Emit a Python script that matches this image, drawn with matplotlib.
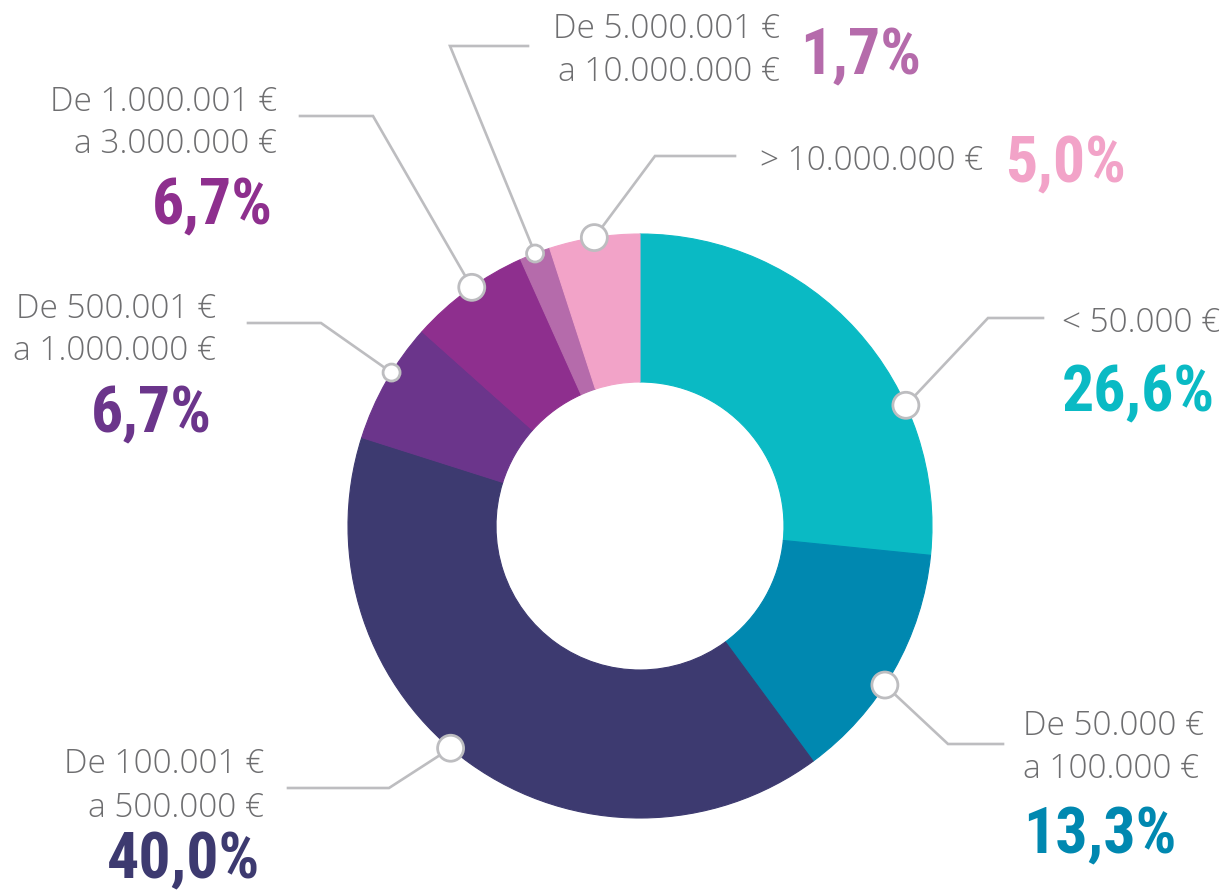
import matplotlib
matplotlib.use("Agg")
import matplotlib.pyplot as plt
from matplotlib import font_manager as fm
from matplotlib.patches import Circle
import numpy as np

# ---------------- data ----------------
categories = [
    ["< 50.000 €"],
    ["De 50.000 €", "a 100.000 €"],
    ["De 100.001 €", "a 500.000 €"],
    ["De 500.001 €", "a 1.000.000 €"],
    ["De 1.000.001 €", "a 3.000.000 €"],
    ["De 5.000.001 €", "a 10.000.000 €"],
    ["> 10.000.000 €"],
]
values = [26.6, 13.3, 40.0, 6.7, 6.7, 1.7, 5.0]
colors = ["#0ABAC4", "#0088B0", "#3D3A70", "#6B358B", "#8E2F8E", "#B56BAB", "#F2A3C8"]

# ---------------- layout (pixel coords, y from top) ----------------
W, H = 1231, 895
CX, CY = 640, 527
R_OUT, RING = 292, 148
anchor_shift = [-17.7, -3.3, -4.8, -2.0, -1.0, 0.0, 0.0]   # deg offset from wedge mid
marker_r = [13, 13, 13, 8.5, 13, 8.5, 13]
elbows = [(988, 319), (948, 745), (389, 789), (321, 324), (373, 117), (450, 47), (655, 157)]
line_ends = [(1043, 319), (1003, 745), (288, 789), (248, 324), (300, 117), (528, 47), (735, 157)]
# label: (x, [baselines], ha)
label_pos = [
    (1062, [332], "left"),
    (1023, [735, 778], "left"),
    (264, [773, 817], "right"),
    (216, [318, 360], "right"),
    (277, [111, 153], "right"),
    (780, [38, 81], "right"),
    (760, [170], "left"),
]
pct_pos = [
    (1062, 411, "left"),
    (1023, 853, "left"),
    (260, 878, "right"),
    (212, 432, "right"),
    (273, 224, "right"),
    (800, 74, "left"),
    (1005, 182, "left"),
]

def P(x, y):
    return (x, H - y)

# ---------------- fonts ----------------
entries = fm.fontManager.ttflist
names = {f.name for f in entries}
pct_size = 46
if "Roboto Condensed" in names:
    pct_font = dict(family="Roboto Condensed", fontweight="bold")
elif "Liberation Sans Narrow" in names:
    pct_font = dict(family="Liberation Sans Narrow", fontweight="bold")
elif any(f.name == "DejaVu Sans" and "condensed" in str(f.stretch) for f in entries):
    pct_font = dict(family="DejaVu Sans", fontweight="bold", fontstretch="condensed")
    pct_size = 40
else:
    pct_font = dict(family="Roboto", fontweight="bold")
    pct_size = 40

label_font = dict(family=["Open Sans", "DejaVu Sans"], fontweight="light")
label_size = 24
text_gray = "#6E6E70"
line_gray = "#BDBDC0"

# ---------------- figure ----------------
fig = plt.figure(figsize=(W / 100, H / 100), dpi=100)
ax = fig.add_axes([0, 0, 1, 1])
wedges, _ = ax.pie(values, colors=colors, startangle=90, counterclock=False,
                   radius=R_OUT, center=P(CX, CY),
                   wedgeprops=dict(width=RING, linewidth=0.8), frame=False)
for w, c in zip(wedges, colors):
    w.set_edgecolor(c)
ax.set_xlim(0, W)
ax.set_ylim(0, H)
ax.set_aspect("equal")
ax.axis("off")

cx, cy = P(CX, CY)
for i, w in enumerate(wedges):
    mid = np.deg2rad((w.theta1 + w.theta2) / 2 + anchor_shift[i])
    mx, my = cx + R_OUT * np.cos(mid), cy + R_OUT * np.sin(mid)
    ex, ey = P(*elbows[i])
    lx, ly = P(*line_ends[i])
    ax.plot([mx, ex, lx], [my, ey, ly], color=line_gray, lw=1.9,
            solid_joinstyle="miter", zorder=3)
    ax.add_patch(Circle((mx, my), marker_r[i], facecolor="white",
                        edgecolor=line_gray, lw=2.0, zorder=4))
    x, bls, ha = label_pos[i]
    for line, b in zip(categories[i], bls):
        ax.text(*P(x, b), line, ha=ha, va="baseline", fontsize=label_size,
                color=text_gray, **label_font)
    px_, py_, pha = pct_pos[i]
    pct = f"{values[i]:.1f}".replace(".", ",") + "%"
    ax.text(*P(px_, py_), pct, ha=pha, va="baseline", fontsize=pct_size,
            color=colors[i], **pct_font)

fig.savefig("out.png", dpi=100)
